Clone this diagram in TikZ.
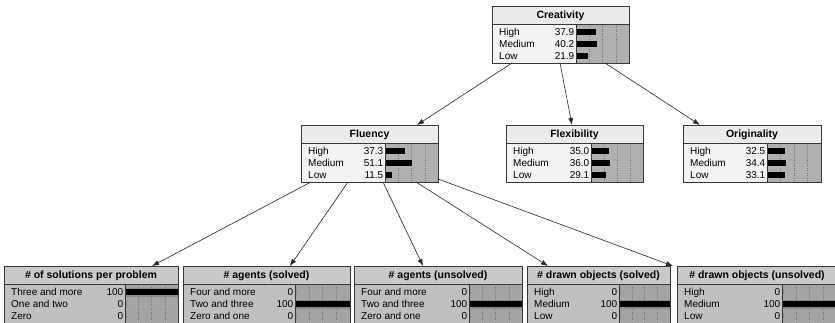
\documentclass[tikz,border=0pt]{standalone}
\usepackage{fontspec}
\setmainfont{Liberation Sans}
\usetikzlibrary{arrows.meta}
\definecolor{ttop}{HTML}{EBEBEB}
\definecolor{btop}{HTML}{F3F3F3}
\definecolor{bartop}{HTML}{B0B0B0}
\definecolor{tev}{HTML}{C9C9C9}
\definecolor{bev}{HTML}{C0C0C0}
\definecolor{barev}{HTML}{A4A4A4}
\definecolor{framec}{HTML}{383838}
\tikzset{
  gridline/.style={draw=black!55, line width=0.5pt, dotted},
  sepline/.style={draw=framec, line width=0.7pt},
  frameline/.style={draw=framec, line width=0.9pt},
  titletext/.style={inner sep=0pt, anchor=base, font=\fontsize{10.5}{12}\selectfont\bfseries},
  rowtext/.style={inner sep=0pt, font=\fontsize{10}{12}\selectfont},
  arr/.style={draw=black!85, line width=0.6pt, -{Latex[length=7pt,width=5pt]}},
  boxnode/.style={inner sep=0pt, outer sep=0pt, minimum height=57pt, anchor=north west}
}
% name, x, y, width, bar start, title, kind (top / ev)
\newcommand\bnbox[7]{%
  \def\bx{#2}\def\by{#3}\def\bw{#4}\def\bb{#5}%
  \node[boxnode, minimum width=#4pt] (#1) at (#2,#3) {};
  \fill[b#7] (#2,#3) rectangle (#2+#4,#3+57);
  \fill[t#7] (#2,#3) rectangle (#2+#4,#3+18);
  \fill[bar#7] (#5,#3+18) rectangle (#2+#4,#3+57);
  \foreach \q in {0.25,0.5,0.75} \draw[gridline] ({#5+(#2+#4-#5)*\q},#3+18) -- ++(0,39);
  \draw[sepline] (#2,#3+18) -- (#2+#4,#3+18);
  \draw[sepline] (#5,#3+18) -- (#5,#3+57);
  \node[titletext] at (#2+#4/2,#3+12.8) {#6};
  \draw[frameline] (#2,#3) rectangle (#2+#4,#3+57);
}
% idx, label, value, fraction
\newcommand\bnrow[4]{%
  \node[rowtext, anchor=base west] at (\bx+7,\by+29.6+12*#1) {#2};
  \node[rowtext, anchor=base east] at (\bb-1.5,\by+29.6+12*#1) {#3};
  \fill[black] (\bb+1,\by+23+12*#1) rectangle ({\bb+1+(\bx+\bw-\bb-3)*#4},\by+29+12*#1);
}
% full evidence bar
\newcommand\evrow[1]{%
  \fill[black!45] (\bb+0.5,\by+21.5+12*#1) rectangle (\bx+\bw-0.5,\by+30.5+12*#1);
  \fill[black] (\bb+0.5,\by+23+12*#1) rectangle (\bx+\bw-0.5,\by+29+12*#1);
}
\begin{document}
\begin{tikzpicture}[x=1pt,y=-1pt]
\clip (0,0) rectangle (835,323);
\fill[white] (0,0) rectangle (835,323);

\bnbox{cre}{492}{6}{137}{576}{Creativity}{top}
\bnrow{0}{High}{37.9}{0.379}
\bnrow{1}{Medium}{40.2}{0.402}
\bnrow{2}{Low}{21.9}{0.219}

\bnbox{flu}{301}{125}{137}{385}{Fluency}{top}
\bnrow{0}{High}{37.3}{0.373}
\bnrow{1}{Medium}{51.1}{0.511}
\bnrow{2}{Low}{11.5}{0.115}

\bnbox{flx}{506}{125}{137}{591}{Flexibility}{top}
\bnrow{0}{High}{35.0}{0.350}
\bnrow{1}{Medium}{36.0}{0.360}
\bnrow{2}{Low}{29.1}{0.291}

\bnbox{ori}{683}{125}{138}{767}{Originality}{top}
\bnrow{0}{High}{32.5}{0.325}
\bnrow{1}{Medium}{34.4}{0.344}
\bnrow{2}{Low}{33.1}{0.331}

\bnbox{ba}{4}{266}{174}{125}{\# of solutions per problem}{ev}
\evrow{0}
\bnrow{0}{Three and more}{100}{0}
\bnrow{1}{One and two}{0}{0}
\bnrow{2}{Zero}{0}{0}

\bnbox{bb}{183}{266}{167}{295}{\# agents (solved)}{ev}
\evrow{1}
\bnrow{0}{Four and more}{0}{0}
\bnrow{1}{Two and three}{100}{0}
\bnrow{2}{Zero and one}{0}{0}

\bnbox{bc}{354}{266}{168}{469}{\# agents (unsolved)}{ev}
\evrow{1}
\bnrow{0}{Four and more}{0}{0}
\bnrow{1}{Two and three}{100}{0}
\bnrow{2}{Zero and one}{0}{0}

\bnbox{bd}{527}{266}{143}{619}{\# drawn objects (solved)}{ev}
\evrow{1}
\bnrow{0}{High}{0}{0}
\bnrow{1}{Medium}{100}{0}
\bnrow{2}{Low}{0}{0}

\bnbox{be}{677}{266}{160}{782}{\# drawn objects (unsolved)}{ev}
\evrow{1}
\bnrow{0}{High}{0}{0}
\bnrow{1}{Medium}{100}{0}
\bnrow{2}{Low}{0}{0}

\draw[arr] ([xshift=20pt]cre.south west) -- ([xshift=116pt]flu.north west);
\draw[arr] ([xshift=68pt]cre.south west) -- ([xshift=66pt]flx.north west);
\draw[arr] ([xshift=113pt]cre.south west) -- ([xshift=17pt]ori.north west);

\draw[arr] ([xshift=10pt]flu.south west) -- ([xshift=148pt]ba.north west);
\draw[arr] ([xshift=47pt]flu.south west) -- ([xshift=107pt]bb.north west);
\draw[arr] ([xshift=82pt]flu.south west) -- ([xshift=69pt]bc.north west);
\draw[arr] ([xshift=115pt]flu.south west) -- ([xshift=21pt]bd.north west);
\draw[arr] ([yshift=3pt]flu.south east) -- ([xshift=-4pt]be.north west);
\end{tikzpicture}
\end{document}
